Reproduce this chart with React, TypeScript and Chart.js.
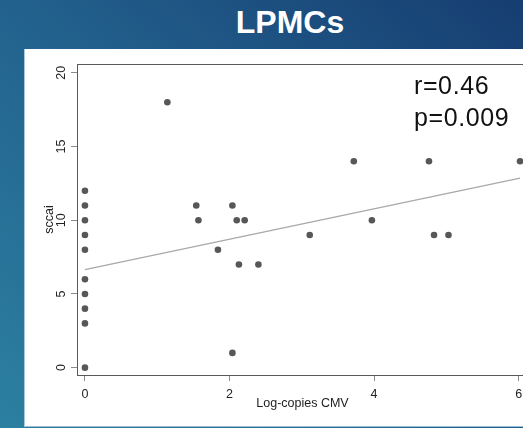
import React, { useEffect, useRef } from "react";
import { Chart, registerables } from "chart.js";

Chart.register(...registerables);

// Scatter data: log-copies CMV (x) vs sccai (y)
const cmvValues = [
  0, 0, 0, 0, 0, 0, 0, 0, 0, 0,
  1.14, 1.54, 1.57, 2.04, 2.1, 2.21, 1.84, 2.13, 2.4, 3.11,
  3.72, 3.97, 2.04, 4.76, 6.02, 4.83, 5.03,
];
const sccaiValues = [
  0, 3, 4, 5, 6, 8, 9, 10, 11, 12,
  18, 11, 10, 11, 10, 10, 8, 7, 7, 9,
  14, 10, 1, 14, 14, 9, 9,
];

// Regression line as drawn in the reference
const fitX = [0, 6.02];
const fitY = [6.65, 12.85];

const xTickValues = [0, 2, 4, 6];
const yTickValues = [0, 5, 10, 15, 20];

const titleText = "LPMCs";
const xAxisTitle = "Log-copies CMV";
const yAxisTitle = "sccai";
const statLines = ["r=0.46", "p=0.009"];

const FONT = "'Liberation Sans', Arial, Helvetica, sans-serif";

export default function App() {
  const canvasRef = useRef<HTMLCanvasElement | null>(null);

  useEffect(() => {
    const canvas = canvasRef.current;
    if (!canvas) return;

    const framePlugin = {
      id: "frame",
      afterDatasetsDraw(chart: any) {
        const { ctx, chartArea } = chart;
        ctx.save();
        ctx.strokeStyle = "#5a5a5a";
        ctx.lineWidth = 1;
        ctx.strokeRect(
          Math.round(chartArea.left) + 0.5,
          Math.round(chartArea.top) + 0.5,
          Math.round(chartArea.right - chartArea.left),
          Math.round(chartArea.bottom - chartArea.top)
        );
        ctx.restore();
      },
    };

    const chart = new Chart(canvas, {
      type: "scatter",
      data: {
        datasets: [
          {
            label: "points",
            data: cmvValues.map((x, i) => ({ x, y: sccaiValues[i] })),
            backgroundColor: "#575757",
            borderWidth: 0,
            pointRadius: 3.3,
            order: 0,
          },
          {
            label: "fit",
            type: "line",
            data: fitX.map((x, i) => ({ x, y: fitY[i] })),
            borderColor: "#a9a9a9",
            borderWidth: 1.3,
            pointRadius: 0,
            fill: false,
            order: 1,
          } as any,
        ],
      },
      options: {
        responsive: false,
        animation: false,
        events: [],
        layout: { padding: { top: 64, right: 32, left: 0, bottom: 0 } },
        plugins: {
          legend: { display: false },
          tooltip: { enabled: false },
          title: { display: false },
        },
        scales: {
          x: {
            type: "linear",
            min: -0.11,
            max: 6.13,
            afterBuildTicks: (scale: any) => {
              scale.ticks = xTickValues.map((v) => ({ value: v }));
            },
            afterFit: (scale: any) => {
              scale.height = 53;
            },
            grid: {
              drawOnChartArea: false,
              drawTicks: true,
              tickLength: 6,
              color: "#8a8a8a",
              lineWidth: 1,
            },
            border: { display: false },
            ticks: {
              padding: 6,
              color: "#222",
              font: { family: FONT, size: 12.5 },
              maxRotation: 0,
              autoSkip: false,
            },
            title: {
              display: true,
              text: xAxisTitle,
              color: "#222",
              font: { family: FONT, size: 12.5 },
              padding: { top: 0, bottom: 17 },
            },
          },
          y: {
            type: "linear",
            min: -0.5,
            max: 20.6,
            afterBuildTicks: (scale: any) => {
              scale.ticks = yTickValues.map((v) => ({ value: v }));
            },
            afterFit: (scale: any) => {
              scale.width = 77;
            },
            grid: {
              drawOnChartArea: false,
              drawTicks: true,
              tickLength: 6,
              color: "#8a8a8a",
              lineWidth: 1,
            },
            border: { display: false },
            ticks: {
              padding: 3,
              color: "#222",
              font: { family: FONT, size: 12.5 },
              minRotation: 90,
              maxRotation: 90,
              crossAlign: "center",
              autoSkip: false,
            },
            title: {
              display: true,
              text: yAxisTitle,
              color: "#222",
              font: { family: FONT, size: 12.5 },
              padding: { top: 42, bottom: 0 },
            },
          },
        },
      },
      plugins: [framePlugin],
    });

    return () => chart.destroy();
  }, []);

  return (
    <div
      style={{
        position: "fixed",
        left: 0,
        top: 0,
        width: 523,
        height: 428,
        overflow: "hidden",
        background:
          "linear-gradient(to top right, #2c80a0 0%, #23638f 48%, #163d71 100%)",
        fontFamily: FONT,
      }}
    >
      <div
        style={{
          position: "absolute",
          left: 0,
          top: 6,
          width: 580,
          textAlign: "center",
          color: "#ffffff",
          fontWeight: "bold",
          fontSize: 32,
          lineHeight: "32px",
        }}
      >
        <span style={{ position: "absolute", left: 290, transform: "translateX(-50%)" }}>
          {titleText}
        </span>
      </div>
      <div
        style={{
          position: "absolute",
          left: 24,
          top: 49,
          width: 540,
          height: 377,
          background: "#ffffff",
          borderLeft: "1px solid #a9c9dc",
          borderBottom: "1px solid #9dbcd2",
        }}
      />
      <canvas
        ref={canvasRef}
        width={560}
        height={428}
        style={{ position: "absolute", left: 0, top: 0, display: "block" }}
      />
      <div
        style={{
          position: "absolute",
          left: 414,
          top: 68.5,
          color: "#111",
          fontSize: 25,
          letterSpacing: "0.6px",
          lineHeight: "32px",
          whiteSpace: "pre",
        }}
      >
        {statLines.map((s, i) => (
          <div key={i}>{s}</div>
        ))}
      </div>
    </div>
  );
}
